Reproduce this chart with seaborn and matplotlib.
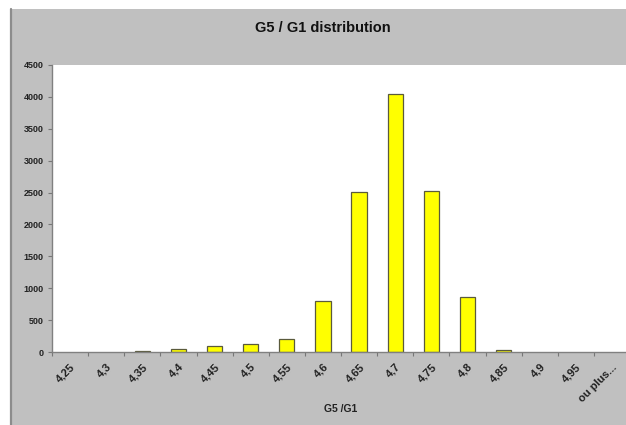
import numpy as np
import pandas as pd
import seaborn as sns
import matplotlib.pyplot as plt
import matplotlib.transforms as mtransforms
from matplotlib.patches import Rectangle
from matplotlib.lines import Line2D

# Bins (upper bounds) and counts of the G5/G1 ratio histogram
categories = ['4,25', '4,3', '4,35', '4,4', '4,45', '4,5', '4,55', '4,6',
              '4,65', '4,7', '4,75', '4,8', '4,85', '4,9', '4,95', 'ou plus...']
counts = [0, 0, 10, 40, 95, 120, 200, 800, 2510, 4050, 2530, 860, 35, 0, 0, 0]
y_ticks = [0, 500, 1000, 1500, 2000, 2500, 3000, 3500, 4000, 4500]

sns.set_style("ticks")
plt.rcParams['font.family'] = ['Liberation Sans', 'DejaVu Sans']

df = pd.DataFrame({'bin': categories, 'count': counts})

fig = plt.figure(figsize=(6.26, 4.25), dpi=100, facecolor='white')

# Excel-like grey chart area with a darker left border
fig.patches.append(Rectangle((10 / 626, 0), 1, (425 - 9) / 425, transform=fig.transFigure,
                             facecolor='#c0c0c0', edgecolor='none', zorder=-5))
fig.lines.append(Line2D([11 / 626, 11 / 626], [0, (425 - 9) / 425], transform=fig.transFigure,
                        color='#8c8c8c', linewidth=1.6, zorder=-4))

ax = fig.add_axes([52 / 626, (425 - 352) / 425, (630 - 52) / 626, (352 - 65) / 425])
ax.set_facecolor('white')
ax.set_zorder(1)

# bars with zero count are left out of the drawing (Excel shows nothing there)
sns.barplot(data=df, x='bin', y='count', color='#ffff00', saturation=1,
            edgecolor='#5a5a3c', linewidth=0.9, width=0.42, ax=ax)
for bar, c in zip(ax.patches, counts):
    if c == 0:
        bar.set_visible(False)

ax.set_xlim(-0.5, len(categories) - 0.5)
ax.set_ylim(0, 4500)
ax.set_yticks(y_ticks)
ax.set_yticklabels([str(v) for v in y_ticks], fontsize=6.5, fontweight='bold', color='#222222')

ax.set_xticks(range(len(categories)))
ax.set_xticklabels(categories, rotation=45, ha='right', rotation_mode='anchor',
                   fontsize=8, fontweight='bold', color='#222222')
shift = mtransforms.ScaledTranslation(-3 / 100, 0, fig.dpi_scale_trans)
for lbl in ax.get_xticklabels():
    lbl.set_transform(lbl.get_transform() + shift)
ax.set_xticks(np.arange(-0.5, len(categories), 1), minor=True)
ax.tick_params(axis='x', which='major', length=0, pad=7)
ax.tick_params(axis='x', which='minor', length=3, width=0.8, color='#777777', direction='out')
ax.tick_params(axis='y', length=3, width=0.8, color='#777777', direction='out', pad=3)

for side in ['top', 'right']:
    ax.spines[side].set_visible(False)
for side in ['left', 'bottom']:
    ax.spines[side].set_color('#808080')
    ax.spines[side].set_linewidth(1.0)

ax.set_ylabel('')
ax.set_xlabel('G5 /G1', fontsize=7.5, fontweight='bold', color='#222222')
ax.xaxis.set_label_coords(0.5, -0.18)

fig.text(323 / 626, (425 - 28) / 425, 'G5 / G1 distribution', ha='center', va='center',
         fontsize=10.5, fontweight='bold', color='#111111')

fig.savefig('out.png', dpi=100, facecolor=fig.get_facecolor())
